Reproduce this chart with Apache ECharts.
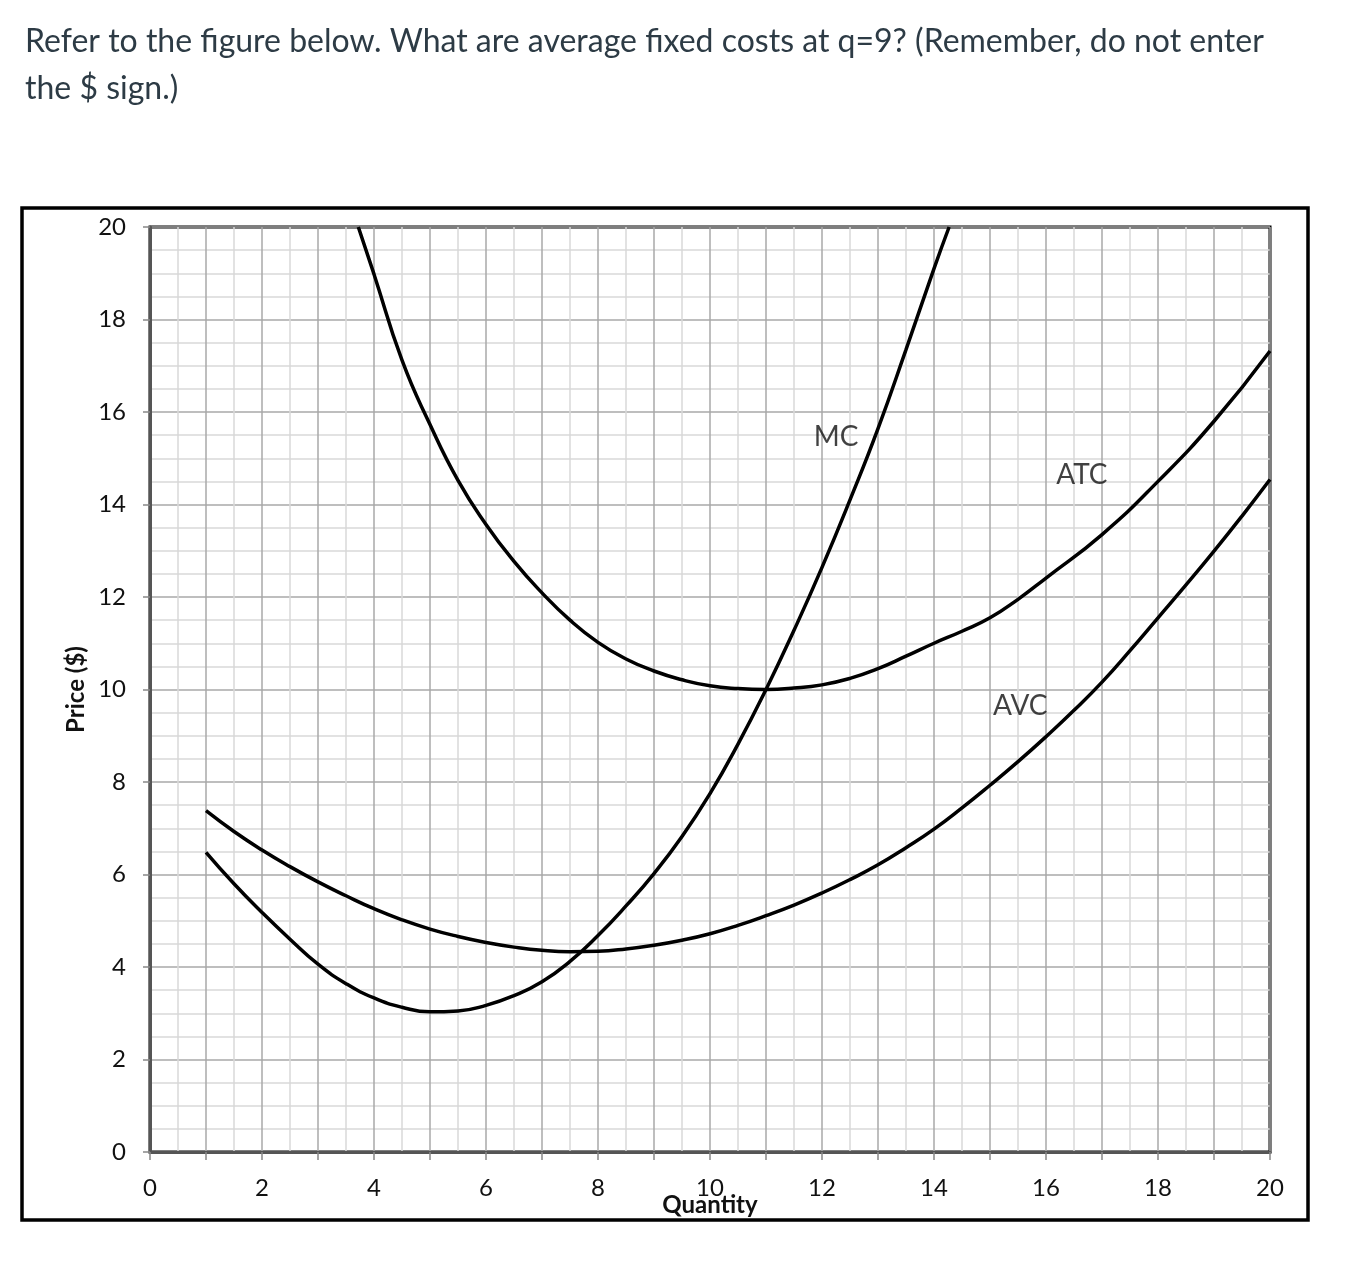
<!DOCTYPE html>
<html lang="en">
<head>
<meta charset="UTF-8">
<title>Cost curves</title>
<style>
  html, body { margin: 0; padding: 0; background: #fff; }
  #main { width: 1348px; height: 1266px; }
</style>
</head>
<body>
<div id="main"></div>
<script src="https://cdn.jsdelivr.net/npm/echarts@6/dist/echarts.min.js"></script>
<script>
// values (quantity -> $)
var mcQ   = [1, 1.5, 2, 2.5, 3, 3.5, 4, 4.5, 5, 5.5, 6, 6.5, 7, 7.5, 8, 8.5, 9, 9.5, 10, 10.5, 11, 11.5, 12, 12.5, 13, 13.5, 14, 14.27];
var mcVal = [6.48, 5.8, 5.18, 4.6, 4.06, 3.64, 3.33, 3.13, 3.03, 3.05, 3.17, 3.38, 3.68, 4.12, 4.68, 5.32, 6.02, 6.82, 7.75, 8.82, 10.0, 11.28, 12.64, 14.1, 15.64, 17.35, 19.1, 20];

var avcQ   = [1, 1.5, 2, 2.5, 3, 3.5, 4, 4.5, 5, 5.5, 6, 6.5, 7, 7.5, 8, 8.5, 9, 9.5, 10, 10.5, 11, 11.5, 12, 12.5, 13, 13.5, 14, 14.5, 15, 15.5, 16, 16.5, 17, 17.5, 18, 18.5, 19, 19.5, 20];
var avcVal = [7.38, 6.93, 6.53, 6.17, 5.84, 5.54, 5.26, 5.02, 4.82, 4.66, 4.53, 4.43, 4.36, 4.33, 4.34, 4.39, 4.47, 4.58, 4.72, 4.9, 5.11, 5.34, 5.6, 5.89, 6.21, 6.58, 6.98, 7.44, 7.93, 8.44, 8.98, 9.55, 10.16, 10.84, 11.55, 12.26, 12.99, 13.75, 14.54];

var atcQ   = [3.72, 4, 4.5, 5, 5.5, 6, 6.5, 7, 7.5, 8, 8.5, 9, 9.5, 10, 10.5, 11, 11.5, 12, 12.5, 13, 13.5, 14, 14.5, 15, 15.5, 16, 17, 18, 19, 20];
var atcVal = [20, 18.98, 17.12, 15.73, 14.52, 13.57, 12.77, 12.09, 11.5, 11.02, 10.66, 10.4, 10.21, 10.08, 10.02, 10.0, 10.03, 10.1, 10.24, 10.45, 10.72, 11.0, 11.26, 11.55, 11.95, 12.41, 13.35, 14.5, 15.8, 17.32];

var curveNames = ['MC', 'ATC', 'AVC'];
var labelQ     = [12.25, 16.64, 15.54];
var labelP     = [15.46, 14.64, 9.64];

var questionLines = [
    'Refer to the figure below. What are average fixed costs at q=9? (Remember, do not enter',
    'the $ sign.)'
];

function pairs(xs, ys) {
    var out = [];
    for (let i = 0; i < xs.length; i++) out.push([xs[i], ys[i]]);
    return out;
}

function curve(name, xs, ys) {
    return {
        name: name,
        type: 'line',
        data: pairs(xs, ys),
        smooth: true,
        showSymbol: false,
        silent: true,
        lineStyle: { color: '#000', width: 3.5 },
        z: 5
    };
}

var labelData = [];
for (let i = 0; i < curveNames.length; i++) {
    labelData.push({ value: [labelQ[i], labelP[i]], name: curveNames[i] });
}

var chart = echarts.init(document.getElementById('main'));

var option = {
    animation: false,
    title: {
        text: questionLines.join('\n'),
        left: 20,
        top: 13,
        textStyle: {
            fontFamily: 'Lato',
            fontSize: 32,
            fontWeight: 'normal',
            color: '#2d3b45',
            lineHeight: 47
        }
    },
    graphic: [{
        type: 'rect',
        shape: { x: 22, y: 208, width: 1286, height: 1012 },
        style: { fill: 'none', stroke: '#000', lineWidth: 3.5 },
        silent: true
    }],
    grid: {
        left: 150, top: 227, right: 78, bottom: 114,
        show: true,
        borderColor: '#000',
        borderWidth: 3
    },
    xAxis: {
        type: 'value',
        min: 0, max: 20, interval: 1,
        name: 'Quantity',
        nameLocation: 'middle',
        nameGap: 41,
        nameMoveOverlap: false,
        nameTextStyle: { fontFamily: 'Lato', fontSize: 24, fontWeight: 'bold', color: '#111' },
        axisLine: { lineStyle: { color: '#555', width: 3 } },
        axisTick: { show: true, length: 8, lineStyle: { color: '#888', width: 1.5 } },
        axisLabel: {
            margin: 24,
            fontFamily: 'Lato', fontSize: 24, color: '#111',
            formatter: function (v) { return v % 2 === 0 ? String(v) : ''; }
        },
        splitLine: { show: true, lineStyle: { color: '#a8a8a8', width: 1.5 } },
        minorTick: { show: false, splitNumber: 2 },
        minorSplitLine: { show: true, lineStyle: { color: '#d9d9d9', width: 1.5 } }
    },
    yAxis: {
        type: 'value',
        min: 0, max: 20, interval: 2,
        name: 'Price ($)',
        nameLocation: 'middle',
        nameGap: 62,
        nameMoveOverlap: false,
        nameTextStyle: { fontFamily: 'Lato', fontSize: 24, fontWeight: 'bold', color: '#111' },
        axisLine: { show: true, lineStyle: { color: '#555', width: 3 } },
        axisTick: { show: true, length: 7, lineStyle: { color: '#888', width: 1.5 } },
        axisLabel: { margin: 24, fontFamily: 'Lato', fontSize: 24, color: '#111' },
        splitLine: { show: true, lineStyle: { color: '#a8a8a8', width: 1.5 } },
        minorTick: { show: false, splitNumber: 4 },
        minorSplitLine: { show: true, lineStyle: { color: '#d9d9d9', width: 1.5 } }
    },
    series: [
        curve('MC', mcQ, mcVal),
        curve('ATC', atcQ, atcVal),
        curve('AVC', avcQ, avcVal),
        {
            name: 'labels',
            type: 'scatter',
            symbolSize: 0,
            silent: true,
            data: labelData,
            label: {
                show: true,
                position: 'inside',
                formatter: function (p) { return p.name; },
                fontFamily: 'Lato',
                fontSize: 28,
                color: '#111'
            },
            z: 6
        }
    ]
};

chart.setOption(option);
</script>
</body>
</html>
